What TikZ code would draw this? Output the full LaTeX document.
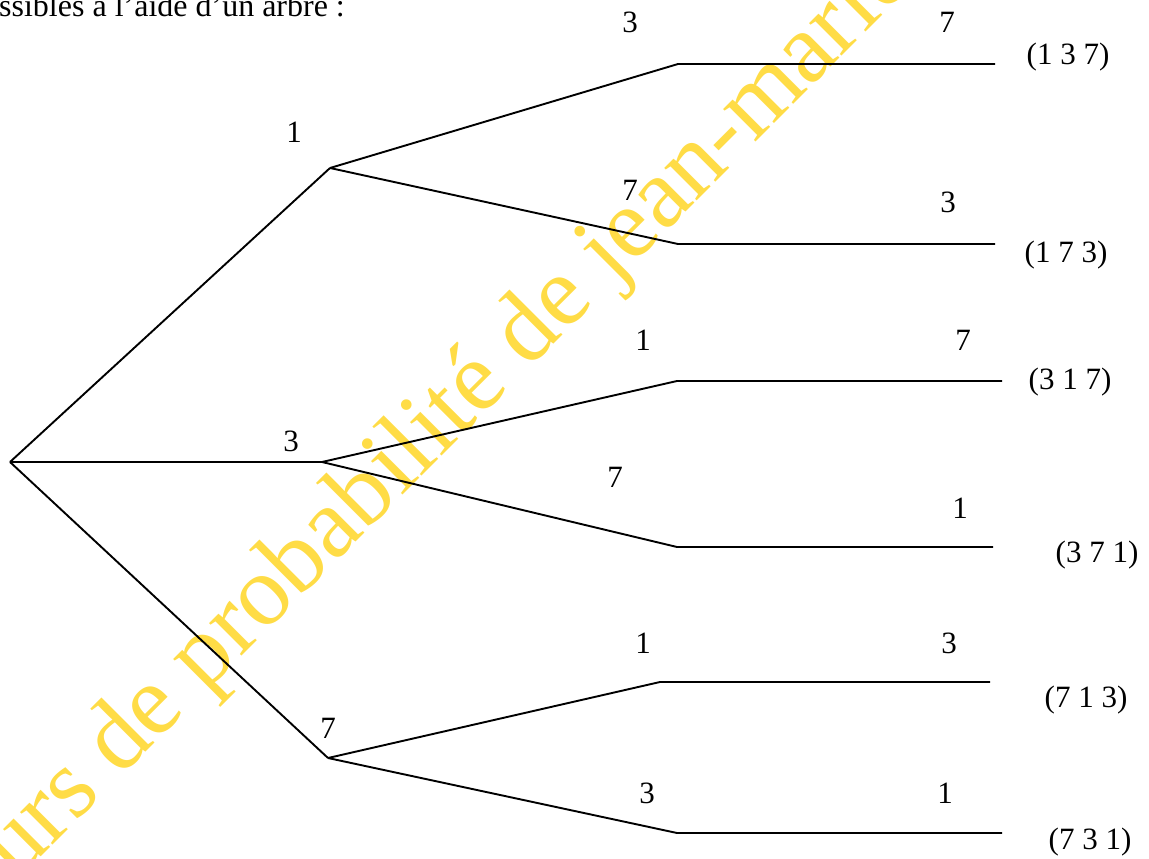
\documentclass[tikz,border=0pt]{standalone}
\usepackage{fontspec}
\setmainfont{Liberation Serif}
\newfontfamily\markfont{Liberation Serif}
\definecolor{markyellow}{RGB}{255,220,70}
\tikzset{
  branch/.style={line width=1.9pt, black, line join=miter},
  lbl/.style={font=\fontsize{31}{36}\selectfont, inner sep=0pt, anchor=center},
  outcome/.style={font=\fontsize{31}{36}\selectfont, inner sep=0pt, anchor=center},
  wmark/.style={font=\markfont\fontsize{100}{110}\selectfont, text=markyellow, inner sep=0pt, anchor=base west, rotate=45}
}
\begin{document}
\begin{tikzpicture}[x=1pt, y=-1pt]
  \path[use as bounding box] (0,0) rectangle (1149,859);
  \clip (0,0) rectangle (1149,859);

  % background watermark
  \node[wmark] (mark) at (16,882) {urs de probabilité de jean-marie};

  % heading line
  \node[font=\fontsize{32}{36}\selectfont, inner sep=0pt, anchor=base west] (head) at (-1,17) {ssibles à l’aide d’un arbre :};

  % tree points
  \coordinate (r) at (10,462);
  \coordinate (n1) at (330,168);
  \coordinate (n3) at (322,462);
  \coordinate (n7) at (328,758);

  \coordinate (k13) at (678,64);   \coordinate (e13) at (995,64);
  \coordinate (k17) at (678,244);  \coordinate (e17) at (995,244);
  \coordinate (k31) at (677,381);  \coordinate (e31) at (1002,381);
  \coordinate (k37) at (677,547);  \coordinate (e37) at (993,547);
  \coordinate (k71) at (660,682);  \coordinate (e71) at (990,682);
  \coordinate (k73) at (677,833);  \coordinate (e73) at (1002,833);

  % first level
  \draw[branch] (r) -- (n1);
  \draw[branch] (r) -- (n3);
  \draw[branch] (r) -- (n7);

  % second and third levels
  \draw[branch] (n1) -- (k13) -- (e13);
  \draw[branch] (n1) -- (k17) -- (e17);
  \draw[branch] (n3) -- (k31) -- (e31);
  \draw[branch] (n3) -- (k37) -- (e37);
  \draw[branch] (n7) -- (k71) -- (e71);
  \draw[branch] (n7) -- (k73) -- (e73);

  % first-draw labels
  \node[lbl] (l1) at (294,132) {1};
  \node[lbl] (l3) at (291,441) {3};
  \node[lbl] (l7) at (328,728) {7};

  % second-draw labels
  \node[lbl] (l13) at (630,22) {3};
  \node[lbl] (l17) at (630,190) {7};
  \node[lbl] (l31) at (643,340) {1};
  \node[lbl] (l37) at (615,477) {7};
  \node[lbl] (l71) at (643,643) {1};
  \node[lbl] (l73) at (647,793) {3};

  % third-draw labels
  \node[lbl] (l137) at (947,22) {7};
  \node[lbl] (l173) at (948,202) {3};
  \node[lbl] (l317) at (963,340) {7};
  \node[lbl] (l371) at (960,508) {1};
  \node[lbl] (l713) at (949,643) {3};
  \node[lbl] (l731) at (945,793) {1};

  % outcomes
  \node[outcome] (o137) at (1068,57) {(1 3 7)};
  \node[outcome] (o173) at (1066,255) {(1 7 3)};
  \node[outcome] (o317) at (1070,382) {(3 1 7)};
  \node[outcome] (o371) at (1097,555) {(3 7 1)};
  \node[outcome] (o713) at (1086,700) {(7 1 3)};
  \node[outcome] (o731) at (1090,842) {(7 3 1)};
\end{tikzpicture}
\end{document}
